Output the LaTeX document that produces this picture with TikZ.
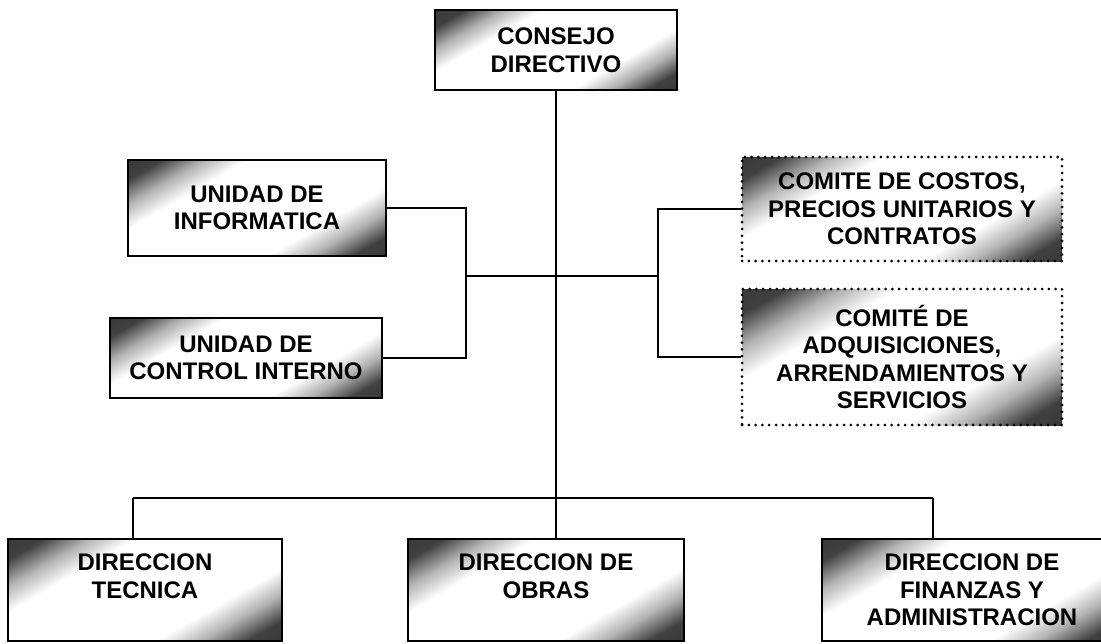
\documentclass[tikz,border=0pt]{standalone}
\usepackage{fontspec}
\setmainfont{Liberation Sans}
\pgfdeclarehorizontalshading{smudge}{100bp}{color(0bp)=(black!85); color(21bp)=(black!75); color(28bp)=(black!30); color(35bp)=(white); color(65bp)=(white); color(72bp)=(black!30); color(79bp)=(black!75); color(100bp)=(black!85)}
\begin{document}
\begin{tikzpicture}[x=1pt,y=-1pt,
  box/.style={draw,line width=1.8pt,shade,shading=smudge,shading angle=-60,align=center,
    inner sep=0pt,font=\bfseries\fontsize{24}{27.5}\selectfont},
  dotbox/.style={box,dash pattern=on 0pt off 6.8pt,line cap=round,line width=3pt},
  conn/.style={line width=1.3pt},
  trunk/.style={line width=2.4pt}]
\useasboundingbox (0,0) rectangle (1101,643);
\node[box,minimum width=242pt,minimum height=80pt] (consejo) at (556,50) {CONSEJO\\DIRECTIVO};
\node[box,minimum width=258pt,minimum height=96pt] (info) at (257,208) {UNIDAD DE\\INFORMATICA};
\node[box,minimum width=272pt,minimum height=80pt] (ctrl) at (246,358) {UNIDAD DE\\CONTROL INTERNO};
\node[dotbox,minimum width=320pt,minimum height=104pt] (costos) at (902,209) {COMITE DE COSTOS,\\PRECIOS UNITARIOS Y\\CONTRATOS};
\node[dotbox,minimum width=320pt,minimum height=136pt] (adq) at (902,357) {COMITÉ DE\\ADQUISICIONES,\\ARRENDAMIENTOS Y\\SERVICIOS};
\node[box,minimum width=274pt,minimum height=102pt] (tec) at (145,590) {DIRECCION\\TECNICA\\~};
\node[box,minimum width=276pt,minimum height=102pt] (obras) at (546,590) {DIRECCION DE\\OBRAS\\~};
\node[box,minimum width=300pt,minimum height=102pt] (fin) at (972,590) {DIRECCION DE\\FINANZAS Y\\ADMINISTRACION};
\coordinate (jl) at (466,276);
\coordinate (jr) at (658,276);
\coordinate (busl) at (133,498);
\coordinate (busr) at (933,498);
\draw[trunk] (consejo.south) -- (consejo.south |- obras.north);
\draw[conn] (jl) -- (jr);
\draw[conn] (info.east) -| (jl) |- (ctrl.east);
\draw[conn] (costos.west) -| (jr) |- (adq.west);
\draw[conn] (busl) -- (busr);
\draw[conn] (busl) -- (busl |- tec.north);
\draw[conn] (busr) -- (busr |- fin.north);
\end{tikzpicture}
\end{document}
